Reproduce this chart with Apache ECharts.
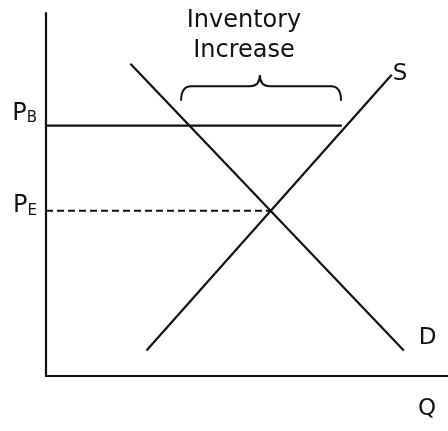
<!DOCTYPE html>
<html>
<head>
<meta charset="utf-8">
<script src="https://cdn.jsdelivr.net/npm/echarts@6/dist/echarts.min.js"></script>
<style>
html, body { margin: 0; padding: 0; background: #fff; }
#chart { width: 448px; height: 431px; }
</style>
</head>
<body>
<div id="chart"></div>
<script>
// quantity / price (0-100 scale)
var demandQ = [21, 89];
var demandP = [86, 7];
var supplyQ = [25, 86];
var supplyP = [7, 83];
var priceB = [[0, 69], [73.6, 69]];   // price floor P_B
var priceE = [[0, 45.5], [55.7, 45.5]]; // equilibrium P_E
// brace: x1, x2, xMid, yTop, yEnd, yTip
var brace = [[33.6, 73.4, 53.2, 79.8, 75.8, 82.9]];

var ink = '#111';
var font = 'DejaVu Sans';

function pairs(xs, ys) {
    return xs.map(function (x, i) { return [x, ys[i]]; });
}

function subLabel(sub, dy) {
    return {
        show: true,
        position: 'left',
        distance: 9,
        offset: [0, dy],
        formatter: function (p) { return p.dataIndex === 0 ? '{p|P}{s|' + sub + '}' : ''; },
        rich: {
            p: { fontSize: 24, color: ink, fontFamily: font },
            s: { fontSize: 15, color: ink, fontFamily: font, verticalAlign: 'bottom', padding: [10, 0, 0, 0] }
        }
    };
}

var chart = echarts.init(document.getElementById('chart'));
chart.setOption({
    animation: false,
    backgroundColor: '#fff',
    grid: { left: 46, right: 0, top: 13, bottom: 55 },
    xAxis: {
        type: 'value', min: 0, max: 100,
        axisLine: { show: true, onZero: false, lineStyle: { color: ink, width: 2.2 } },
        axisTick: { show: false }, axisLabel: { show: false }, splitLine: { show: false }
    },
    yAxis: {
        type: 'value', min: 0, max: 100,
        axisLine: { show: true, onZero: false, lineStyle: { color: ink, width: 2.2 } },
        axisTick: { show: false }, axisLabel: { show: false }, splitLine: { show: false }
    },
    graphic: [
        { type: 'text', x: 244, y: 6, style: { text: 'Inventory\nIncrease', align: 'center', fontSize: 24, lineHeight: 30, fontFamily: font, fill: ink } },
        { type: 'text', x: 418, y: 398, style: { text: 'Q', fontSize: 23, fontFamily: font, fill: ink } }
    ],
    series: [
        {
            type: 'line', data: pairs(demandQ, demandP), symbol: 'circle', symbolSize: 0,
            lineStyle: { color: ink, width: 2.2 },
            label: {
                show: true, position: 'right', distance: 15, offset: [0, -13],
                formatter: function (p) { return p.dataIndex === 1 ? 'D' : ''; },
                fontSize: 23, color: ink, fontFamily: font
            }
        },
        {
            type: 'line', data: pairs(supplyQ, supplyP), symbol: 'circle', symbolSize: 0,
            lineStyle: { color: ink, width: 2.2 },
            label: {
                show: true, position: 'right', distance: 1, offset: [0, -1],
                formatter: function (p) { return p.dataIndex === 1 ? 'S' : ''; },
                fontSize: 23, color: ink, fontFamily: font
            }
        },
        {
            type: 'line', data: priceB, symbol: 'circle', symbolSize: 0,
            lineStyle: { color: ink, width: 2.2 },
            label: subLabel('B', -12)
        },
        {
            type: 'line', data: priceE, symbol: 'circle', symbolSize: 0,
            lineStyle: { color: ink, width: 2, type: [7, 4] },
            label: subLabel('E', -5)
        },
        {
            type: 'custom',
            data: brace,
            renderItem: function (params, api) {
                var a = api.coord([api.value(0), api.value(3)]);
                var b = api.coord([api.value(1), api.value(4)]);
                var m = api.coord([api.value(2), api.value(5)]);
                var x1 = a[0], x2 = b[0], yT = a[1], yE = b[1], xm = m[0], yTip = m[1];
                var r = 10;
                var d = 'M' + x1 + ' ' + yE +
                    ' Q' + x1 + ' ' + yT + ' ' + (x1 + r) + ' ' + yT +
                    ' L' + (xm - r) + ' ' + yT +
                    ' Q' + xm + ' ' + yT + ' ' + xm + ' ' + yTip +
                    ' Q' + xm + ' ' + yT + ' ' + (xm + r) + ' ' + yT +
                    ' L' + (x2 - r) + ' ' + yT +
                    ' Q' + x2 + ' ' + yT + ' ' + x2 + ' ' + yE;
                return {
                    type: 'path',
                    shape: { pathData: d },
                    style: { fill: null, stroke: ink, lineWidth: 2 }
                };
            }
        }
    ]
});
</script>
</body>
</html>
